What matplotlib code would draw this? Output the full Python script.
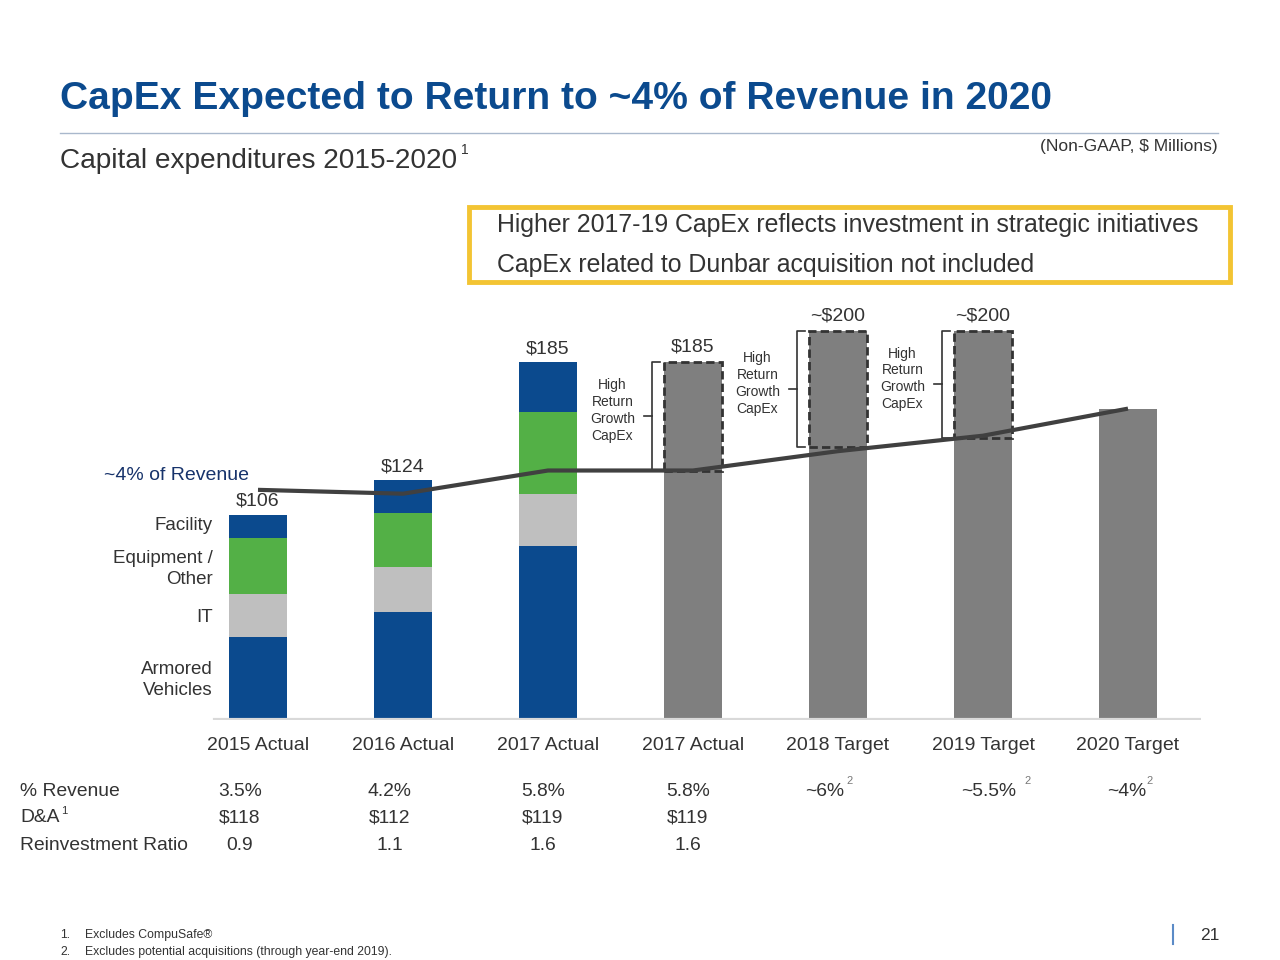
import matplotlib
matplotlib.use('Agg')
import matplotlib.pyplot as plt
from matplotlib.patches import Rectangle

W, H = 1280, 960
plt.rcParams['font.family'] = ['Liberation Sans', 'DejaVu Sans']

categories = ['2015 Actual', '2016 Actual', '2017 Actual', '2017 Actual',
              '2018 Target', '2019 Target', '2020 Target']

# stacked actuals ($M)
armored = [43, 56, 90]
it = [22, 23, 27]
equipment = [29, 28, 42]
facility = [12, 17, 26]
stack_labels = ['$106', '$124', '$185']

# grey bars: total and level below the dashed "high return growth" part
grey_total = [185, 201, 201, 161]
grey_core = [129, 141, 146, None]
grey_labels = ['$185', '~$200', '~$200', '']

# ~4% of revenue line
line_vals = [119, 117, 129, 129, 139, 147, 161]

# table under the chart
pct_revenue = ['3.5%', '4.2%', '5.8%', '5.8%', '~6%', '~5.5%', '~4%']
da = ['$118', '$112', '$119', '$119']
reinvest = ['0.9', '1.1', '1.6', '1.6']

BLUE = '#0B4A8E'
GREEN = '#53B046'
LGREY = '#BFBFBF'
DGREY = '#7F7F7F'
TXT = '#333333'


def px(x, y):
    return x / W, 1 - y / H


fig = plt.figure(figsize=(12.8, 9.6), dpi=100)
fig.patch.set_facecolor('white')

# header
fig.text(*px(60, 99), 'CapEx Expected to Return to ~4% of Revenue in 2020',
         fontsize=28.1, fontweight='bold', color=BLUE, va='center')
fig.add_artist(plt.Line2D([60 / W, 1218 / W], [1 - 133 / H] * 2, color='#A9B8CC', lw=1))
fig.text(*px(60, 161), 'Capital expenditures 2015-2020', fontsize=20.2, color=TXT, va='center')
fig.text(*px(461, 150), '1', fontsize=10, color=TXT, va='center')
fig.text(*px(1218, 147), '(Non-GAAP, $ Millions)', fontsize=12.5, color=TXT,
         va='center', ha='right')

# yellow call-out box
fig.add_artist(Rectangle((469 / W, 1 - 282 / H), (1230 - 469) / W, (282 - 207) / H,
                         transform=fig.transFigure, fill=False, edgecolor='#F3C433', lw=3.5))
fig.text(*px(497, 225), 'Higher 2017-19 CapEx reflects investment in strategic initiatives',
         fontsize=17.9, color=TXT, va='center')
fig.text(*px(497, 265), 'CapEx related to Dunbar acquisition not included',
         fontsize=17.9, color=TXT, va='center')

# chart area
ax = fig.add_axes([185.5 / W, 0.25, 1015 / W, 425.5 / H])
ax.set_xlim(-0.5, 6.5)
ax.set_ylim(0, 220)
ax.axis('off')
bw = 0.4

idx = range(3)
ax.bar(idx, armored, bw, color=BLUE)
b1 = armored
ax.bar(idx, it, bw, bottom=b1, color=LGREY)
b2 = [a + b for a, b in zip(b1, it)]
ax.bar(idx, equipment, bw, bottom=b2, color=GREEN)
b3 = [a + b for a, b in zip(b2, equipment)]
ax.bar(idx, facility, bw, bottom=b3, color=BLUE)
tops = [a + b for a, b in zip(b3, facility)]
for i, (t, lab) in enumerate(zip(tops, stack_labels)):
    ax.text(i, t + 7, lab, ha='center', va='center', fontsize=14, color=TXT)

gx = [3, 4, 5, 6]
ax.bar(gx, grey_total, bw, color=DGREY)
for x, tot, core, lab in zip(gx, grey_total, grey_core, grey_labels):
    if core is None:
        continue
    ax.add_patch(Rectangle((x - bw / 2, core), bw, tot - core, fill=False,
                           edgecolor='#333333', lw=2, linestyle=(0, (3, 1.5)), zorder=3))
    ax.text(x, tot + 8, lab, ha='center', va='center', fontsize=14, color=TXT)
    # bracket
    xb = x - bw / 2 - 0.08
    ax.plot([xb + 0.05, xb, xb, xb + 0.05], [tot, tot, core, core], color='#333333', lw=1.2)
    mid = (tot + core) / 2
    ax.plot([xb, xb - 0.06], [mid, mid], color='#333333', lw=1.2)
    ax.text(x - 0.555, mid + 3, 'High\nReturn\nGrowth\nCapEx', ha='center', va='center',
            fontsize=10, color=TXT, linespacing=1.25)

ax.plot(range(7), line_vals, color='#404040', lw=3, zorder=4, solid_capstyle='butt')
ax.plot([-0.3, 6.5], [0, 0], color='#D9D9D9', lw=3, zorder=1)

for i, c in enumerate(categories):
    ax.text(i, -13, c, ha='center', va='center', fontsize=14, color=TXT)

# left-side labels
fig.text(*px(249, 475), '~4% of Revenue', fontsize=14, color='#17336B', ha='right', va='center')
for y, lab in [(526, 'Facility'), (569, 'Equipment /\nOther'), (617, 'IT'),
               (680, 'Armored\nVehicles')]:
    fig.text(*px(213, y), lab, fontsize=13.5, color=TXT, ha='right', va='center',
             linespacing=1.3)

# table
col_x = [240, 390, 543, 688, 825, 989, 1127]
sup_x = [None, None, None, None, 850, 1028, 1150]
fs = 13.9
fig.text(*px(20, 791), '% Revenue', fontsize=fs, color=TXT, va='center')
fig.text(*px(20, 818), 'D&A', fontsize=fs, color=TXT, va='center')
fig.text(*px(61, 811), '1', fontsize=8, color=TXT, va='center')
fig.text(*px(20, 846), 'Reinvestment Ratio', fontsize=fs, color=TXT, va='center')
for x, s, v in zip(col_x, sup_x, pct_revenue):
    fig.text(*px(x, 791), v, fontsize=fs, color=TXT, ha='center', va='center')
    if s is not None:
        fig.text(*px(s, 781), '2', fontsize=8, color='#777777', ha='center', va='center')
for x, v in zip(col_x, da):
    fig.text(*px(x, 818), v, fontsize=fs, color=TXT, ha='center', va='center')
for x, v in zip(col_x, reinvest):
    fig.text(*px(x, 846), v, fontsize=fs, color=TXT, ha='center', va='center')

# footnotes
fig.text(*px(60, 935), '1.', fontsize=8.8, color=TXT, va='center')
fig.text(*px(85, 935), 'Excludes CompuSafe®', fontsize=8.8, color=TXT, va='center')
fig.text(*px(60, 952), '2.', fontsize=8.8, color=TXT, va='center')
fig.text(*px(85, 952), 'Excludes potential acquisitions (through year-end 2019).',
         fontsize=8.8, color=TXT, va='center')
fig.add_artist(plt.Line2D([1173 / W] * 2, [1 - 925 / H, 1 - 944 / H], color='#5B8BC7', lw=1.5))
fig.text(*px(1200, 935), '21', fontsize=12.5, color=TXT, va='center')

fig.savefig('out.png', dpi=100)
